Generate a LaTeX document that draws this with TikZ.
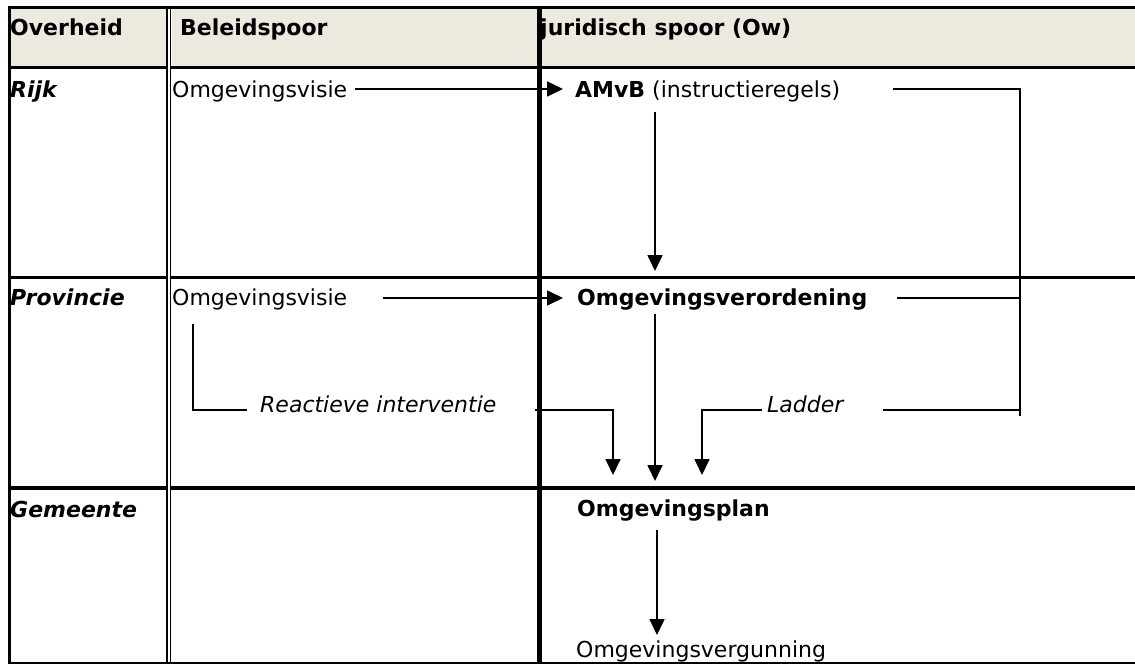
\documentclass[tikz,border=0pt]{standalone}
\usepackage{fontspec}
\setmainfont{DejaVu Sans}
\usetikzlibrary{arrows.meta}
\definecolor{headfill}{RGB}{236,233,222}
\begin{document}
\begin{tikzpicture}[x=1pt,y=-1pt,
  txt/.style={anchor=base west, inner sep=0pt, font=\fontsize{22}{26}\selectfont},
  bld/.style={txt, font=\fontsize{22}{26}\selectfont\bfseries},
  bit/.style={txt, font=\fontsize{22}{26}\selectfont\bfseries\itshape},
  itl/.style={txt, font=\fontsize{22}{26}\selectfont\itshape},
  thickrule/.style={line width=3.5pt},
  conn/.style={line width=1.7pt},
  arr/.style={conn, -{Triangle[length=16pt,width=15pt]}},
  brk/.style={line width=2pt}
]
\useasboundingbox (0,0) rectangle (1135,664);
% header fill
\fill[headfill] (11,9) rectangle (166,66);
\fill[headfill] (172,9) rectangle (1135,66);
% table rules
\draw[thickrule] (8,7.5) -- (1135,7.5);
\draw[thickrule] (9.5,6) -- (9.5,664);
\foreach \y in {67.5,277.5,488} {
  \draw[thickrule] (8,\y) -- (166.5,\y);
  \draw[thickrule] (171,\y) -- (1135,\y);
}
\draw[line width=2.4pt] (167.2,6) -- (167.2,664);
\draw[line width=1.3pt] (170.8,6) -- (170.8,664);
\draw[line width=5pt] (539.5,6) -- (539.5,664);
\draw[line width=1.5pt] (8,663.2) -- (1135,663.2);
% header texts
\node[bld] (hOv) at (10,35) {Overheid};
\node[bld] (hBel) at (180,35) {Beleidspoor};
\node[bld] (hJur) at (540,35) {juridisch spoor (Ow)};
% row labels
\node[bit] (rijk) at (10,97) {Rijk};
\node[bit] (prov) at (10,305) {Provincie};
\node[bit] (gem) at (10,517) {Gemeente};
% content
\node[txt] (visieR) at (172,97) {Omgevingsvisie};
\node[txt] (visieP) at (172,305) {Omgevingsvisie};
\node[txt] (amvb) at (575,97) {\textbf{AMvB} (instructieregels)};
\node[bld] (verord) at (577,305) {Omgevingsverordening};
\node[bld] (plan) at (577,516) {Omgevingsplan};
\node[txt] (verg) at (576,657) {Omgevingsvergunning};
\node[itl] (react) at (260,412) {Reactieve interventie};
\node[itl] (ladder) at (767,412) {Ladder};
% coordinates
\coordinate (rS) at (355,89);   \coordinate (rT) at (563,89);
\coordinate (pS) at (383,298);  \coordinate (pT) at (563,298);
\coordinate (aS) at (655,112);  \coordinate (aT) at (655,271);
\coordinate (vS) at (655,314);  \coordinate (vT) at (655,481);
\coordinate (gS) at (657,530);  \coordinate (gT) at (657,635);
\coordinate (lb1) at (193,324); \coordinate (lb2) at (193,410); \coordinate (lb3) at (247,410);
\coordinate (rv1) at (535,410); \coordinate (rv2) at (613,410); \coordinate (rvT) at (613,475);
\coordinate (ld1) at (762,410); \coordinate (ld2) at (702,410); \coordinate (ldT) at (702,475);
\coordinate (br1) at (893,89);  \coordinate (br2) at (1020,89); \coordinate (br3) at (1020,416);
\coordinate (bm1) at (897,298); \coordinate (bm2) at (1020,298);
\coordinate (bl1) at (883,410); \coordinate (bl2) at (1020,410);
% connectors
\draw[arr] (rS) -- (rT);
\draw[arr] (pS) -- (pT);
\draw[arr] (aS) -- (aT);
\draw[arr] (vS) -- (vT);
\draw[arr] (gS) -- (gT);
\draw[conn] (lb1) -- (lb2) -- (lb3);
\draw[arr] (rv1) -- (rv2) -- (rvT);
\draw[arr] (ld1) -- (ld2) -- (ldT);
\draw[brk] (br1) -- (br2) -- (br3);
\draw[brk] (bm1) -- (bm2);
\draw[brk] (bl1) -- (bl2);
\end{tikzpicture}
\end{document}
